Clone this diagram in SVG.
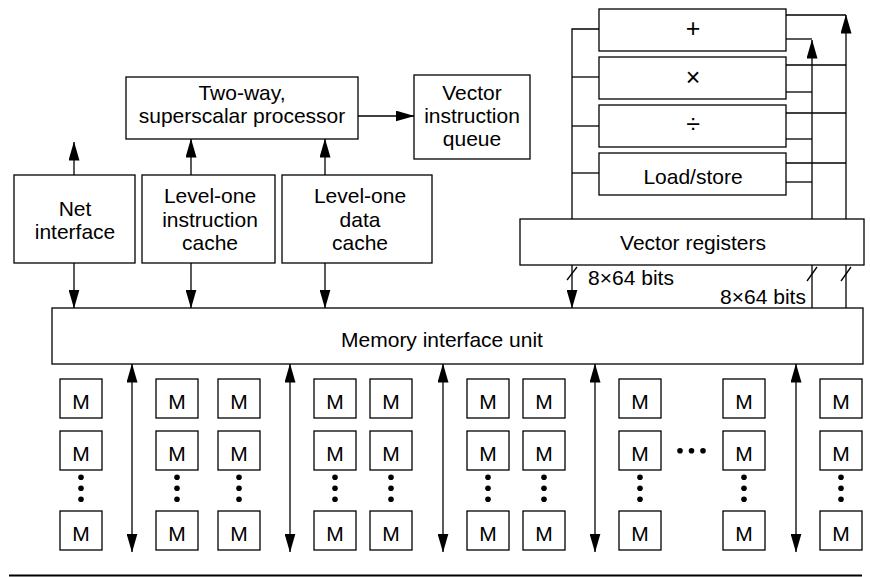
<svg xmlns="http://www.w3.org/2000/svg" width="870" height="577" viewBox="0 0 870 577">
<style>
.box{fill:#fff;stroke:#000;stroke-width:1.3}
.ln{fill:none;stroke:#000;stroke-width:1.3}
.ar{fill:none;stroke:#000;stroke-width:1.3;marker-end:url(#ah)}
.ar2{fill:none;stroke:#000;stroke-width:1.3;marker-end:url(#ah);marker-start:url(#ah)}
text{font-family:"Liberation Sans",Arial,Helvetica,sans-serif;font-size:21px;fill:#000;text-anchor:middle}
.op{font-size:25px}
.dot{fill:#000}
</style>
<defs>
<marker id="ah" viewBox="0 0 19 11" refX="18.5" refY="5.5" markerWidth="19" markerHeight="11" markerUnits="userSpaceOnUse" orient="auto-start-reverse">
<path d="M0,0 L19,5.5 L0,11 z" fill="#000"/>
</marker>
</defs>
<rect width="870" height="577" fill="#fff"/>
<g id="connectors">
<line class="ar" x1="358" y1="116" x2="414" y2="116"/>
<line class="ar" x1="74" y1="175" x2="74" y2="142"/>
<line class="ar" x1="191" y1="175" x2="191" y2="139"/>
<line class="ar" x1="325" y1="175" x2="325" y2="139"/>
<line class="ar" x1="74" y1="263" x2="74" y2="308"/>
<line class="ar" x1="191" y1="263" x2="191" y2="308"/>
<line class="ar" x1="325" y1="263" x2="325" y2="308"/>
<line class="ar" x1="572" y1="265" x2="572" y2="308"/>
<polyline class="ln" points="599,29 572,29 572,219"/>
<line class="ln" x1="572" y1="77" x2="599" y2="77"/>
<line class="ln" x1="572" y1="126" x2="599" y2="126"/>
<line class="ln" x1="572" y1="173" x2="599" y2="173"/>
<line class="ar" x1="846" y1="308" x2="846" y2="15"/>
<line class="ar" x1="812" y1="308" x2="812" y2="40"/>
<line class="ln" x1="786" y1="15" x2="846" y2="15"/>
<line class="ln" x1="786" y1="39" x2="812" y2="39"/>
<line class="ln" x1="786" y1="65" x2="846" y2="65"/>
<line class="ln" x1="786" y1="92" x2="812" y2="92"/>
<line class="ln" x1="786" y1="113" x2="846" y2="113"/>
<line class="ln" x1="786" y1="139" x2="812" y2="139"/>
<line class="ln" x1="786" y1="163" x2="846" y2="163"/>
<line class="ln" x1="786" y1="182" x2="812" y2="182"/>
<line class="ln" x1="567" y1="280" x2="577" y2="267"/>
<line class="ln" x1="807" y1="281" x2="817" y2="267"/>
<line class="ln" x1="841" y1="281" x2="851" y2="267"/>
<text x="631" y="284.5">8×64 bits</text>
<text x="763" y="303.5">8×64 bits</text>
<line class="ar2" x1="132" y1="364" x2="132" y2="552"/>
<line class="ar2" x1="290" y1="364" x2="290" y2="552"/>
<line class="ar2" x1="443" y1="364" x2="443" y2="552"/>
<line class="ar2" x1="595" y1="364" x2="595" y2="552"/>
<line class="ar2" x1="796" y1="364" x2="796" y2="552"/>
</g>
<g id="processor"><rect class="box" x="126" y="77" width="232" height="62"/><text x="242" y="100">Two-way,</text><text x="242" y="123.3">superscalar processor</text></g>
<g id="viq"><rect class="box" x="414" y="75" width="116" height="84"/><text x="472" y="100">Vector</text><text x="472" y="123">instruction</text><text x="472" y="146">queue</text></g>
<g id="net"><rect class="box" x="14" y="175" width="121" height="88"/><text x="75" y="216">Net</text><text x="75" y="239.3">interface</text></g>
<g id="icache"><rect class="box" x="142" y="175" width="133" height="88"/><text x="210" y="203.3">Level-one</text><text x="210" y="226.7">instruction</text><text x="210" y="250">cache</text></g>
<g id="dcache"><rect class="box" x="282" y="175" width="150" height="88"/><text x="360" y="203.3">Level-one</text><text x="360" y="226.7">data</text><text x="360" y="250">cache</text></g>
<g id="unit-add"><rect class="box" x="599" y="9" width="187" height="42"/><text class="op" x="693" y="37">+</text></g>
<g id="unit-mul"><rect class="box" x="599" y="57" width="187" height="42"/><text class="op" x="693" y="86">×</text></g>
<g id="unit-div"><rect class="box" x="599" y="105" width="187" height="42"/><text class="op" x="693" y="133">÷</text></g>
<g id="unit-ls"><rect class="box" x="599" y="153" width="187" height="42"/><text x="693" y="183.5">Load/store</text></g>
<g id="vregs"><rect class="box" x="520" y="219" width="344" height="46"/><text x="693" y="250">Vector registers</text></g>
<g id="miu"><rect class="box" x="52" y="308" width="811" height="56"/><text x="442" y="346.5">Memory interface unit</text></g>
<g id="mem-col1"><rect class="box" x="60" y="379" width="42" height="39"/><text x="81" y="408.5">M</text><rect class="box" x="60" y="431" width="42" height="39"/><text x="81" y="460.5">M</text><circle class="dot" cx="81" cy="477.3" r="2.8"/><circle class="dot" cx="81" cy="488.3" r="2.8"/><circle class="dot" cx="81" cy="499.3" r="2.8"/><rect class="box" x="60" y="511" width="42" height="39"/><text x="81" y="540.5">M</text></g>
<g id="mem-col2"><rect class="box" x="156" y="379" width="42" height="39"/><text x="177" y="408.5">M</text><rect class="box" x="156" y="431" width="42" height="39"/><text x="177" y="460.5">M</text><circle class="dot" cx="177" cy="477.3" r="2.8"/><circle class="dot" cx="177" cy="488.3" r="2.8"/><circle class="dot" cx="177" cy="499.3" r="2.8"/><rect class="box" x="156" y="511" width="42" height="39"/><text x="177" y="540.5">M</text></g>
<g id="mem-col3"><rect class="box" x="218" y="379" width="42" height="39"/><text x="239" y="408.5">M</text><rect class="box" x="218" y="431" width="42" height="39"/><text x="239" y="460.5">M</text><circle class="dot" cx="239" cy="477.3" r="2.8"/><circle class="dot" cx="239" cy="488.3" r="2.8"/><circle class="dot" cx="239" cy="499.3" r="2.8"/><rect class="box" x="218" y="511" width="42" height="39"/><text x="239" y="540.5">M</text></g>
<g id="mem-col4"><rect class="box" x="314" y="379" width="42" height="39"/><text x="335" y="408.5">M</text><rect class="box" x="314" y="431" width="42" height="39"/><text x="335" y="460.5">M</text><circle class="dot" cx="335" cy="477.3" r="2.8"/><circle class="dot" cx="335" cy="488.3" r="2.8"/><circle class="dot" cx="335" cy="499.3" r="2.8"/><rect class="box" x="314" y="511" width="42" height="39"/><text x="335" y="540.5">M</text></g>
<g id="mem-col5"><rect class="box" x="370" y="379" width="42" height="39"/><text x="391" y="408.5">M</text><rect class="box" x="370" y="431" width="42" height="39"/><text x="391" y="460.5">M</text><circle class="dot" cx="391" cy="477.3" r="2.8"/><circle class="dot" cx="391" cy="488.3" r="2.8"/><circle class="dot" cx="391" cy="499.3" r="2.8"/><rect class="box" x="370" y="511" width="42" height="39"/><text x="391" y="540.5">M</text></g>
<g id="mem-col6"><rect class="box" x="467" y="379" width="42" height="39"/><text x="488" y="408.5">M</text><rect class="box" x="467" y="431" width="42" height="39"/><text x="488" y="460.5">M</text><circle class="dot" cx="488" cy="477.3" r="2.8"/><circle class="dot" cx="488" cy="488.3" r="2.8"/><circle class="dot" cx="488" cy="499.3" r="2.8"/><rect class="box" x="467" y="511" width="42" height="39"/><text x="488" y="540.5">M</text></g>
<g id="mem-col7"><rect class="box" x="523" y="379" width="42" height="39"/><text x="544" y="408.5">M</text><rect class="box" x="523" y="431" width="42" height="39"/><text x="544" y="460.5">M</text><circle class="dot" cx="544" cy="477.3" r="2.8"/><circle class="dot" cx="544" cy="488.3" r="2.8"/><circle class="dot" cx="544" cy="499.3" r="2.8"/><rect class="box" x="523" y="511" width="42" height="39"/><text x="544" y="540.5">M</text></g>
<g id="mem-col8"><rect class="box" x="619" y="379" width="42" height="39"/><text x="640" y="408.5">M</text><rect class="box" x="619" y="431" width="42" height="39"/><text x="640" y="460.5">M</text><circle class="dot" cx="640" cy="477.3" r="2.8"/><circle class="dot" cx="640" cy="488.3" r="2.8"/><circle class="dot" cx="640" cy="499.3" r="2.8"/><rect class="box" x="619" y="511" width="42" height="39"/><text x="640" y="540.5">M</text></g>
<g id="mem-ellipsis"><circle class="dot" cx="680" cy="450.7" r="2.8"/><circle class="dot" cx="691.5" cy="450.7" r="2.8"/><circle class="dot" cx="703" cy="450.7" r="2.8"/></g>
<g id="mem-col9"><rect class="box" x="723" y="379" width="42" height="39"/><text x="744" y="408.5">M</text><rect class="box" x="723" y="431" width="42" height="39"/><text x="744" y="460.5">M</text><circle class="dot" cx="744" cy="477.3" r="2.8"/><circle class="dot" cx="744" cy="488.3" r="2.8"/><circle class="dot" cx="744" cy="499.3" r="2.8"/><rect class="box" x="723" y="511" width="42" height="39"/><text x="744" y="540.5">M</text></g>
<g id="mem-col10"><rect class="box" x="820" y="379" width="42" height="39"/><text x="841" y="408.5">M</text><rect class="box" x="820" y="431" width="42" height="39"/><text x="841" y="460.5">M</text><circle class="dot" cx="841" cy="477.3" r="2.8"/><circle class="dot" cx="841" cy="488.3" r="2.8"/><circle class="dot" cx="841" cy="499.3" r="2.8"/><rect class="box" x="820" y="511" width="42" height="39"/><text x="841" y="540.5">M</text></g>
<line x1="9" y1="575.5" x2="862" y2="575.5" stroke="#000" stroke-width="2"/>
</svg>
